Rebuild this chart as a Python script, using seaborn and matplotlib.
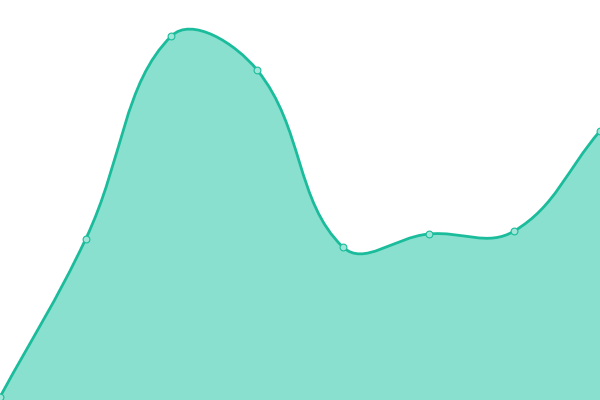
import numpy as np
import matplotlib
matplotlib.use("Agg")
import matplotlib.pyplot as plt
from matplotlib.path import Path
from matplotlib.patches import PathPatch
import seaborn as sns

# data points (index, value)
x = [0, 1, 2, 3, 4, 5, 6, 7]
values = [3, 161, 364, 330, 153, 166, 169, 269]

line_color = "#1abc9c"
fill_color = "#8ae0cf"

sns.set_style("white")
fig = plt.figure(figsize=(6, 4), dpi=100)
ax = fig.add_axes([0, 0, 1, 1])
ax.set_xlim(0, 7)
ax.set_ylim(0, 400)
ax.axis("off")

# smooth curve with tension 0.4, control points worked out in pixel space
pts = ax.transData.transform(np.column_stack([x, values]))
tension = 0.4
n = len(pts)
cp_prev, cp_next = [], []
for i in range(n):
    cur = pts[i]
    prev = pts[i - 1] if i > 0 else cur
    nxt = pts[i + 1] if i < n - 1 else cur
    d01 = np.hypot(*(cur - prev))
    d12 = np.hypot(*(nxt - cur))
    tot = d01 + d12
    s01 = d01 / tot if tot else 0
    s12 = d12 / tot if tot else 0
    cp_prev.append(cur - tension * s01 * (nxt - prev))
    cp_next.append(cur + tension * s12 * (nxt - prev))

verts = [pts[0]]
codes = [Path.MOVETO]
for i in range(1, n):
    verts += [cp_next[i - 1], cp_prev[i], pts[i]]
    codes += [Path.CURVE4] * 3
inv = ax.transData.inverted()
curve = inv.transform(np.array(verts))

fill_verts = np.vstack([curve, [[x[-1], 0], [x[0], 0], curve[0]]])
fill_codes = codes + [Path.LINETO, Path.LINETO, Path.CLOSEPOLY]
ax.add_patch(PathPatch(Path(fill_verts, fill_codes), facecolor=fill_color, edgecolor="none", zorder=1))
ax.add_patch(PathPatch(Path(curve, codes), facecolor="none", edgecolor=line_color, linewidth=2.0, zorder=2))

sns.scatterplot(x=x, y=values, ax=ax, s=24, color="#9ee6d8", edgecolor=line_color, linewidth=0.8, zorder=3, legend=False)
ax.set_xlim(0, 7)
ax.set_ylim(0, 400)
ax.axis("off")

fig.savefig("out.png", dpi=100)
